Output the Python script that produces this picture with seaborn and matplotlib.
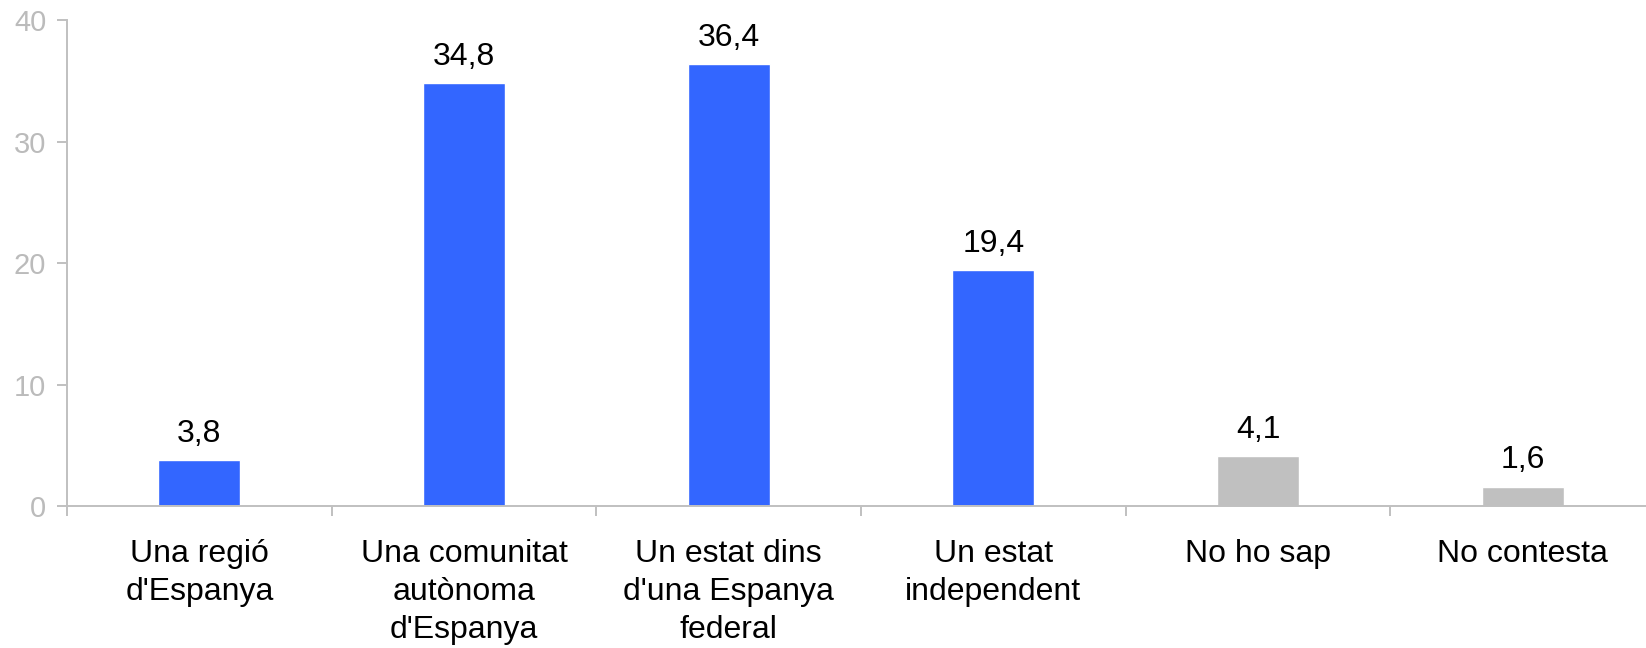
import matplotlib
matplotlib.use("Agg")
import matplotlib.pyplot as plt
import seaborn as sns

# Dades
categories = ["Una regió\nd'Espanya", "Una comunitat\nautònoma\nd'Espanya",
              "Un estat dins\nd'una Espanya\nfederal", "Un estat\nindependent",
              "No ho sap", "No contesta"]
values = [3.8, 34.8, 36.4, 19.4, 4.1, 1.6]
colors = ["#3366FF", "#3366FF", "#3366FF", "#3366FF", "#C0C0C0", "#C0C0C0"]
yticks = [0, 10, 20, 30, 40]

sns.set_style("white")
plt.rcParams["font.family"] = ["Liberation Sans", "DejaVu Sans"]

fig = plt.figure(figsize=(16.46, 6.48), dpi=100)
ax = fig.add_axes([0.0407, 0.2191, 0.9648, 0.75])

sns.barplot(x=categories, y=values, hue=categories, palette=colors,
            legend=False, width=0.31, saturation=1, ax=ax)

labels = [f"{v:.1f}".replace(".", ",") for v in values]
for cont, lab in zip(ax.containers, labels):
    ax.bar_label(cont, labels=[lab], padding=8, fontsize=23, color="black")

ax.set_xlim(-0.5, 5.5)
ax.set_ylim(0, 40)
ax.set_yticks(yticks)
ax.set_yticklabels([str(t) for t in yticks])
ax.set_xlabel("")
ax.set_ylabel("")

grey = "#C0C0C0"
for s in ["top", "right"]:
    ax.spines[s].set_visible(False)
for s in ["left", "bottom"]:
    ax.spines[s].set_color(grey)
    ax.spines[s].set_linewidth(1.4)

ax.tick_params(axis="y", direction="out", length=7, width=1.4, color=grey,
               labelcolor="#BBBBBB", labelsize=21, pad=8, left=True)
ax.tick_params(axis="x", which="major", length=0, labelsize=23, pad=24,
               labelcolor="black")
ax.set_xticks([i - 0.5 for i in range(7)], minor=True)
ax.tick_params(axis="x", which="minor", direction="out", length=7, width=1.4,
               color=grey, bottom=True)
for t in ax.get_xticklabels():
    t.set_linespacing(1.34)

plt.savefig("out.png", dpi=100)
plt.close()
